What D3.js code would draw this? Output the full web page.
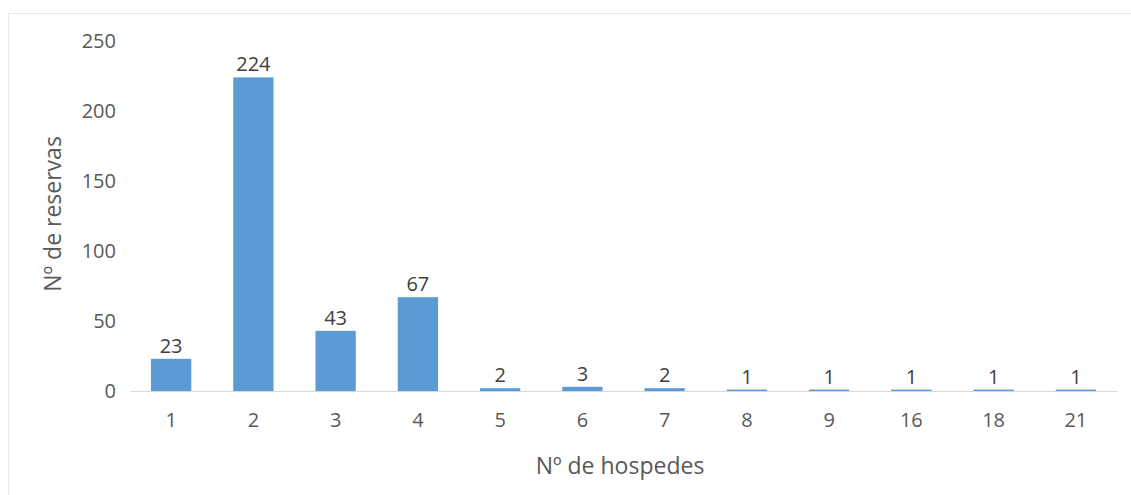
<!DOCTYPE html>
<html>
<head>
<meta charset="utf-8">
<script src="https://cdn.jsdelivr.net/npm/d3@7"></script>
<style>
  body { margin: 0; background: #fff; }
  text { font-family: "Open Sans", "Noto Sans", sans-serif; }
</style>
</head>
<body>
<svg width="1131" height="495"></svg>
<script>
// Chart data
const guests = ['1', '2', '3', '4', '5', '6', '7', '8', '9', '16', '18', '21'];
const bookings = [23, 224, 43, 67, 2, 3, 2, 1, 1, 1, 1, 1];
const yTicks = [0, 50, 100, 150, 200, 250];

const svg = d3.select('svg');
const width = +svg.attr('width');
const height = +svg.attr('height');

// chart frame (only top and left edges visible)
svg.append('rect')
  .attr('x', 8.5).attr('y', 13.5)
  .attr('width', width + 10).attr('height', height + 10)
  .attr('fill', 'none')
  .attr('stroke', '#e6e6e6');

const margin = { top: 41, right: 14, bottom: 104, left: 130 };
const xScale = d3.scaleBand().domain(guests)
  .range([margin.left, width - margin.right]).paddingInner(0.51).paddingOuter(0.255);
const yScale = d3.scaleLinear().domain([0, 250]).range([height - margin.bottom, margin.top]);

// y tick labels
svg.append('g')
  .selectAll('text')
  .data(yTicks)
  .join('text')
  .attr('x', 116)
  .attr('y', d => yScale(d))
  .attr('dy', '0.35em')
  .attr('text-anchor', 'end')
  .attr('font-size', 20)
  .attr('fill', '#595959')
  .text(d => d);

// bars
svg.append('g')
  .selectAll('rect')
  .data(bookings)
  .join('rect')
  .attr('x', (d, i) => xScale(guests[i]))
  .attr('y', d => yScale(d))
  .attr('width', xScale.bandwidth())
  .attr('height', d => yScale(0) - yScale(d))
  .attr('fill', '#5b9bd5');

// x axis line
const xAxisGroup = svg.append('g')
  .attr('transform', `translate(0, ${yScale(0)})`)
  .call(d3.axisBottom(xScale).tickSize(0).tickPadding(22));
xAxisGroup.select('.domain').attr('stroke', '#d9d9d9').attr('stroke-width', 1);
xAxisGroup.selectAll('text')
  .attr('font-size', 20)
  .attr('fill', '#595959')
  .style('font-family', '"Open Sans", "Noto Sans", sans-serif');

// data labels
svg.append('g')
  .selectAll('text')
  .data(bookings)
  .join('text')
  .attr('x', (d, i) => xScale(guests[i]) + xScale.bandwidth() / 2)
  .attr('y', d => yScale(d) - 6)
  .attr('text-anchor', 'middle')
  .attr('font-size', 20)
  .attr('fill', '#404040')
  .text(d => d);

// axis titles
svg.append('text')
  .attr('x', 620)
  .attr('y', 474)
  .attr('text-anchor', 'middle')
  .attr('font-size', 23)
  .attr('fill', '#595959')
  .text('Nº de hospedes');

svg.append('text')
  .attr('transform', 'translate(61, 214) rotate(-90)')
  .attr('text-anchor', 'middle')
  .attr('font-size', 23)
  .attr('fill', '#595959')
  .text('Nº de reservas');
</script>
</body>
</html>
